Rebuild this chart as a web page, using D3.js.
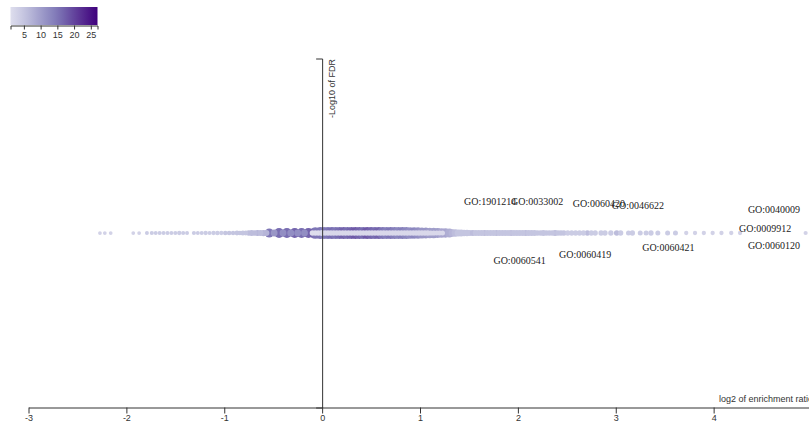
<!DOCTYPE html>
<html><head><meta charset="utf-8">
<script src="https://cdn.jsdelivr.net/npm/d3@7"></script>
<style>
html,body{margin:0;padding:0;background:#fff;overflow:hidden;}
svg text{font-family:Arial,"Liberation Sans",sans-serif;}
.lbl{font-family:"Liberation Serif","Times New Roman",serif;font-size:10px;fill:#222;}
</style></head>
<body>
<svg id="chart" width="809" height="424"></svg>
<script>
// ---- data ----
const log2Ratio = [
 -2.27,-2.22,-2.16,-1.93,-1.87,-1.79,-1.74,-1.70,-1.66,-1.62,
 -1.58,-1.54,-1.50,-1.46,-1.42,-1.38,-1.31,-1.27,-1.23,-1.19,
 -1.15,-1.11,-1.07,-1.03,-0.99,-0.95,-0.91,-0.87,-0.84,-0.81,-0.78,
 -0.75,-0.72,-0.69,-0.66,-0.63,-0.60,-0.57,
 -0.54,-0.44,-0.36,-0.28,-0.21,-0.14,-0.07,-0.02,
 -0.49,-0.40,-0.32,-0.25,-0.18,
 -0.10,-0.07,-0.04,-0.01,
 0.02,0.06,0.10,0.14,0.18,0.22,0.26,0.30,0.34,0.38,
 0.42,0.46,0.50,0.54,0.58,0.62,0.66,0.70,0.74,0.78,
 0.82,0.86,0.90,0.94,0.98,1.02,1.06,1.10,1.14,1.18,1.22,1.26,1.30,
 0.00,0.03,0.06,0.09,0.12,0.15,0.18,0.21,0.24,0.27,
 0.30,0.33,0.36,0.39,0.42,0.45,0.48,0.51,0.54,0.57,
 0.60,0.63,0.66,0.69,0.72,0.75,0.78,0.81,0.84,0.87,
 0.90,0.93,0.96,0.99,1.02,1.05,1.08,1.11,1.14,1.17,1.20,1.23,
 1.33,1.36,1.39,1.42,1.45,1.48,1.51,1.54,1.57,1.60,
 1.63,1.66,1.69,1.72,1.75,1.78,1.81,1.84,1.87,1.90,
 1.93,1.96,1.99,2.02,2.05,2.08,2.11,2.14,2.17,2.20,
 2.23,2.26,2.29,2.32,2.35,2.38,2.41,2.44,2.47,
 2.51,2.55,2.59,2.63,2.67,2.71,2.75,2.79,2.85,2.89,
 2.95,3.01,3.05,3.13,3.17,3.25,3.31,3.36,3.43,3.53,3.61,
 3.72,3.81,3.90,3.99,4.08,4.18,4.27,4.94
];
const geneSetSize = [
 9,9,9,9,9,10,11,10,11,10,
 11,10,11,12,11,10,11,10,11,12,
 11,12,13,12,13,14,13,15,14,16,15,
 20,22,20,24,22,25,24,
 52,62,64,64,62,64,88,90,
 30,30,32,30,30,
 18,18,18,18,
 90,90,90,90,90,90,90,90,90,90,
 90,90,90,90,90,90,90,90,90,90,
 90,90,88,86,84,80,76,72,68,64,60,56,52,
 18,18,18,18,18,18,18,18,18,18,
 18,18,18,18,18,18,18,18,18,18,
 18,18,18,18,18,18,18,18,18,18,
 18,18,18,18,18,18,18,17,17,16,16,16,
 36,34,32,30,28,26,24,24,22,22,
 22,24,22,22,22,24,22,22,22,22,
 24,22,22,22,22,24,22,22,22,20,
 20,22,20,20,20,22,20,20,20,
 18,18,18,18,18,20,18,18,18,18,
 18,20,18,16,18,16,16,18,16,16,16,
 12,12,12,12,12,12,12,11
];
const overlapCount = [
 3,3,3,3,3,4,4,4,4,4,
 4,4,4,4,4,4,4,4,4,4,
 4,4,4,4,5,5,5,5,5,5,5,
 6,6,6,7,6,7,7,
 15,16,16,17,16,17,15,15,
 11,12,12,12,12,
 1,1,1,1,
 14,15,16,15,16,17,16,17,18,17,
 16,18,17,16,17,15,14,15,14,13,
 14,13,12,13,12,11,11,10,10,10,9,9,8,
 2,2,2,2,2,2,2,2,2,2,
 2,2,2,2,2,2,2,2,2,2,
 2,2,2,2,2,2,2,2,2,2,
 2,2,2,2,2,2,2,2,2,2,2,2,
 7,6,5,5,5,5,5,6,5,5,
 5,6,5,5,5,6,5,5,5,5,
 6,5,5,5,5,6,5,5,5,5,
 5,5,5,5,5,6,5,5,5,
 4,4,4,4,4,6,4,4,4,4,
 4,6,4,4,4,4,4,4,4,4,4,
 3,3,3,3,3,3,3,3
];
const fdr = 1; // all terms share the same FDR
const xTicks = [-3,-2,-1,0,1,2,3,4];
const legendTicks = [5,10,15,20,25];
const labelTerms = ["GO:1901214","GO:0033002","GO:0060420","GO:0046622","GO:0040009","GO:0009912","GO:0060120","GO:0060421","GO:0060419","GO:0060541"];
const labelLog2 = [1.45,1.93,2.56,2.96,4.35,4.26,4.35,3.27,2.42,1.75];
const labelDy = [-27,-27,-25,-23,-19,0,17,19,26,32];

// ---- scales ----
const svg = d3.select("#chart");
const x = d3.scaleLinear().domain([-3,5]).range([28.5,811.5]);
const y = d3.scaleLinear().domain([0,0]).range([407.5,58.5]);
const r = d3.scaleSqrt().domain([0,100]).range([0,6.25]);
const colorDomain = [1,27];
const color = d3.scaleSequential(t => d3.interpolatePurples(0.22 + 0.78*t)).domain(colorDomain);

// ---- points ----
const pts = log2Ratio.map((v,i)=>({x:v,s:geneSetSize[i],o:overlapCount[i]}))
  .sort((a,b)=>b.s-a.s);
svg.append("g").selectAll("circle").data(pts).join("circle")
  .attr("cx",d=>x(d.x)).attr("cy",y(-Math.log10(fdr)))
  .attr("r",d=>r(d.s)).attr("fill",d=>color(d.o));

// ---- axes ----
const gx = svg.append("g").attr("transform","translate(0,407.5)")
  .call(d3.axisBottom(x).tickValues(xTicks).tickFormat(d=>String(d)).tickSizeOuter(0));
gx.selectAll("text").attr("font-size",9).attr("fill","#333").attr("y",7);
gx.selectAll("line,path").attr("stroke","#333");
gx.append("text").attr("x",813).attr("y",-6).attr("text-anchor","end")
  .attr("font-size",9).attr("fill","#333").text("log2 of enrichment ratio");

const gy = svg.append("g").attr("transform","translate("+x(0)+",0)")
  .call(d3.axisLeft(y).tickValues([]).tickSizeOuter(6));
gy.selectAll("path").attr("stroke","#333");
gy.append("text").attr("transform","rotate(-90)").attr("x",-59).attr("y",6).attr("dy",".71em")
  .attr("text-anchor","end").attr("font-size",9).attr("fill","#333").text("-Log10 of FDR");

// ---- labels ----
svg.append("g").selectAll("text").data(labelTerms).join("text")
  .attr("class","lbl")
  .attr("x",(d,i)=>x(labelLog2[i]))
  .attr("y",(d,i)=>y(-Math.log10(fdr))+labelDy[i]-1)
  .text(d=>d);

// ---- legend ----
const lx = d3.scaleLinear().domain(colorDomain).range([10.5,97.5]);
const defs = svg.append("defs");
const grad = defs.append("linearGradient").attr("id","lg");
d3.range(0,1.0001,0.1).forEach(t=>{
  grad.append("stop").attr("offset",t).attr("stop-color",color(colorDomain[0]+t*(colorDomain[1]-colorDomain[0])));
});
svg.append("rect").attr("x",10.5).attr("y",7).attr("width",87).attr("height",18).attr("fill","url(#lg)");
const gl = svg.append("g").attr("transform","translate(0,25.5)")
  .call(d3.axisBottom(lx).tickValues(legendTicks).tickSize(4).tickSizeOuter(4));
gl.selectAll("text").attr("font-size",9).attr("fill","#333").attr("y",6);
gl.selectAll("line,path").attr("stroke","#333");
</script>
</body></html>
